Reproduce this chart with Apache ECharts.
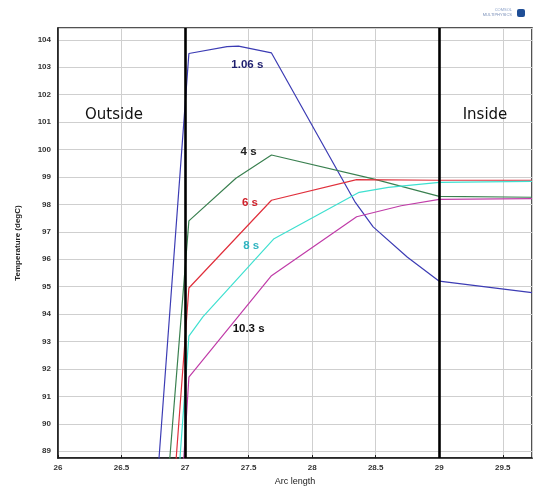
<!DOCTYPE html>
<html><head><meta charset="utf-8">
<script src="https://cdn.jsdelivr.net/npm/echarts@6/dist/echarts.min.js"></script>
<style>html,body{margin:0;padding:0;background:#fff}#c{width:534px;height:491px}</style>
</head><body><div id="c"></div>
<script>
// Data (arc length, temperature degC)
const series106 = [[26.783,88.0],[27.03,103.5],[27.33,103.75],[27.42,103.77],[27.68,103.52],[28.34,98.07],[28.48,97.18],[28.75,96.07],[29.0,95.2],[29.73,94.78]];
const series4   = [[26.867,88.0],[27.03,97.4],[27.4,98.95],[27.68,99.8],[28.48,98.93],[29.0,98.29],[29.73,98.26]];
const series6   = [[26.918,88.0],[27.03,94.95],[27.68,98.15],[28.35,98.9],[29.0,98.88],[29.73,98.88]];
const series8   = [[26.948,88.0],[27.03,93.2],[27.14,93.9],[27.7,96.75],[28.37,98.44],[28.6,98.62],[29.0,98.8],[29.73,98.84]];
const series103 = [[26.98,88.0],[27.03,91.7],[27.68,95.4],[28.35,97.55],[28.7,97.95],[29.0,98.18],[29.73,98.21]];
const seriesNames = ['1.06 s','4 s','6 s','8 s','10.3 s'];
const boundaries = [27, 29];
const regionLabels = [['Outside', 26.44, 101.25], ['Inside', 29.36, 101.25]];
const timeLabelPos = [[27.49,103.07],[27.50,99.93],[27.51,98.04],[27.52,96.5],[27.50,93.46]];

const lineColors = ['#3c3cb4','#3a8050','#e0303c','#3fe0d0','#c03ca8'];
const textColors = ['#1e1e6e','#222222','#d0202a','#30b4c0','#111111'];
const allData = [series106, series4, series6, series8, series103];

const chart = echarts.init(document.getElementById('c'));
const series = allData.map((d, i) => ({
  name: seriesNames[i], type: 'line', data: d, showSymbol: false, symbol: 'none',
  lineStyle: {color: lineColors[i], width: 1.2}, clip: true, z: 3,
  markPoint: {
    symbol: 'rect', symbolSize: 1, itemStyle: {color: 'rgba(0,0,0,0)'},
    label: {show: true, formatter: seriesNames[i], color: textColors[i], fontSize: 11.5, fontWeight: 'bold', fontFamily: 'Liberation Sans', position: 'inside'},
    data: [{coord: timeLabelPos[i]}]
  }
}));
series.push({
  type: 'line', data: [], showSymbol: false, z: 4,
  markLine: {
    silent: true, symbol: 'none', label: {show: false},
    lineStyle: {color: '#000', width: 2.6, type: 'solid'},
    data: boundaries.map(b => ({xAxis: b}))
  },
  markPoint: {
    symbol: 'rect', symbolSize: 1, itemStyle: {color: 'rgba(0,0,0,0)'},
    label: {show: true, formatter: p => p.name, color: '#111', fontSize: 15, fontFamily: 'DejaVu Sans', position: 'inside'},
    data: regionLabels.map(r => ({name: r[0], coord: [r[1], r[2]]}))
  }
});

chart.setOption({
  animation: false,
  backgroundColor: '#fff',
  graphic: [
    {type: 'text', right: 22, top: 8, style: {text: 'COMSOL', fontSize: 4, fill: '#8aa0c8', fontFamily: 'Liberation Sans'}},
    {type: 'text', right: 22, top: 13, style: {text: 'MULTIPHYSICS', fontSize: 4, fill: '#7a90b8', fontFamily: 'Liberation Sans'}},
    {type: 'rect', right: 9, top: 9, shape: {width: 8, height: 8, r: 2}, style: {fill: '#1f4e96'}}
  ],
  grid: {left: 58, top: 28, right: 2, bottom: 24, show: true, borderColor: '#1a1a1a', borderWidth: 1.5},
  xAxis: {
    type: 'value', min: 26, max: 29.73, splitNumber: 7,
    name: 'Arc length', nameLocation: 'middle', nameGap: 18,
    nameTextStyle: {fontSize: 9, color: '#222', fontFamily: 'Liberation Sans'},
    axisLine: {show: true, lineStyle: {color: '#1a1a1a', width: 1.5}},
    axisTick: {show: true, inside: true, length: 3, lineStyle: {color: '#1a1a1a'}},
    axisLabel: {fontSize: 8, color: '#333', fontWeight: 'bold', fontFamily: 'Liberation Sans', margin: 6, showMaxLabel: false,
      formatter: v => (Math.abs(v*2 - Math.round(v*2)) < 1e-6) ? String(v) : ''},
    splitLine: {show: true, lineStyle: {color: '#cfcfcf', width: 1}}
  },
  yAxis: {
    type: 'value', min: 88.75, max: 104.43, splitNumber: 15,
    name: 'Temperature (degC)', nameLocation: 'middle', nameGap: 36, nameRotate: 90,
    nameTextStyle: {fontSize: 8, color: '#222', fontWeight: 'bold', fontFamily: 'Liberation Sans'},
    axisLine: {show: true, lineStyle: {color: '#1a1a1a', width: 1.5}},
    axisTick: {show: false},
    axisLabel: {fontSize: 8, color: '#333', fontWeight: 'bold', fontFamily: 'Liberation Sans', margin: 7, showMinLabel: false, showMaxLabel: false,
      formatter: v => (Math.abs(v - Math.round(v)) < 1e-6) ? String(v) : ''},
    splitLine: {show: true, lineStyle: {color: '#cfcfcf', width: 1}}
  },
  series: series
});
</script></body></html>
